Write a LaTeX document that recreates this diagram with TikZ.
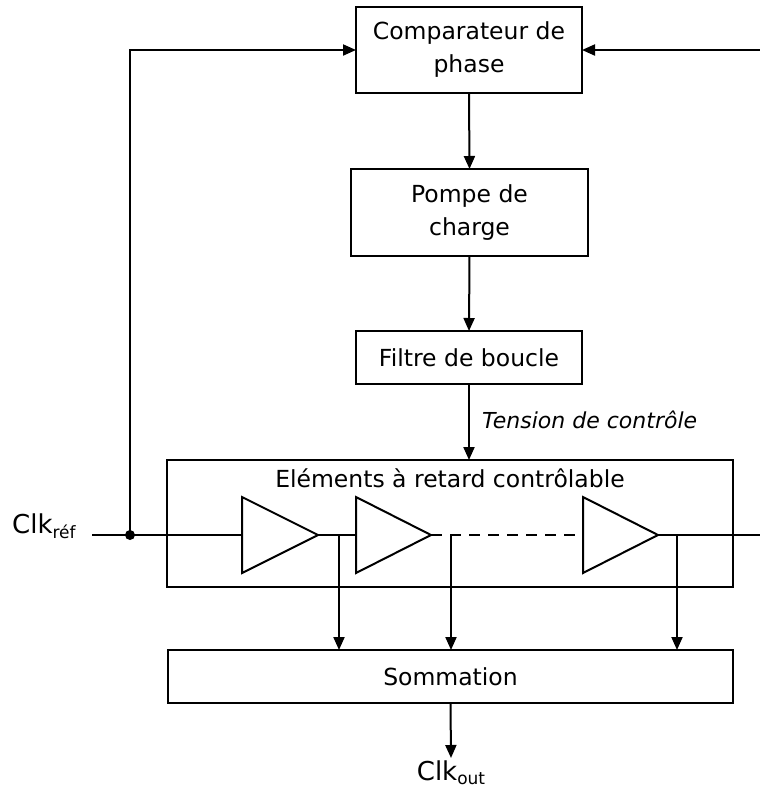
\documentclass[tikz,border=0pt]{standalone}
\usepackage{fontspec}
\setmainfont{DejaVu Sans}
\usetikzlibrary{arrows.meta}
\begin{document}
\begin{tikzpicture}[x=1pt,y=-1pt,
  box/.style={draw,line width=2pt,inner sep=0pt,outer sep=0pt,align=center,font=\fontsize{23.5}{33}\selectfont},
  wire/.style={line width=2pt},
  arr/.style={wire,-{Triangle[length=13pt,width=11pt]}},
  lbl/.style={inner sep=0pt,font=\fontsize{23.5}{28}\selectfont},
  amp/.style={line width=2pt,line join=miter}]
\useasboundingbox (0,0) rectangle (760,793);
% boxes
\node[box,minimum width=226pt,minimum height=86pt] (comp) at (469,50) {Comparateur de\\phase};
\node[box,minimum width=237pt,minimum height=87pt] (pompe) at (469.5,212.5) {Pompe de\\charge};
\node[box,minimum width=226pt,minimum height=53pt] (filtre) at (469,357.5) {Filtre de boucle};
\node[box,minimum width=566pt,minimum height=127pt] (elem) at (450,523.5) {};
\node[lbl] (elemtxt) at (450,478) {Eléments à retard contrôlable};
\node[box,minimum width=565pt,minimum height=53pt] (somm) at (450.5,676.5) {Sommation};
% labels
\node[lbl,anchor=base west,font=\fontsize{26}{30}\selectfont] (clkref) at (12,533) {Clk\raisebox{-5pt}{\fontsize{17}{17}\selectfont réf}};
\node[lbl,anchor=base,font=\fontsize{26}{30}\selectfont] (clkout) at (451,780) {Clk\raisebox{-4pt}{\fontsize{17}{17}\selectfont out}};
\node[lbl,anchor=west,font=\fontsize{22}{26}\selectfont\itshape] (tens) at (482,420) {Tension de contrôle};
% coordinates
\coordinate (in) at (92,535);
\coordinate (dot) at (130,535);
\coordinate (outr) at (760,535);
\coordinate (fbr) at (760,50);
\coordinate (t1a) at (242,497); \coordinate (t1b) at (242,573); \coordinate (t1i) at (242,535); \coordinate (t1o) at (318,535);
\coordinate (t2a) at (356,497); \coordinate (t2b) at (356,573); \coordinate (t2i) at (356,535); \coordinate (t2o) at (431,535);
\coordinate (t3a) at (583,497); \coordinate (t3b) at (583,573); \coordinate (t3i) at (583,535); \coordinate (t3o) at (658,535);
\coordinate (tap1) at (339,535);
\coordinate (tap2) at (451,535);
\coordinate (tap3) at (677,535);
\coordinate (sout) at (451,758);
% amplifiers
\draw[amp] (t1a) -- (t1o) -- (t1b) -- cycle;
\draw[amp] (t2a) -- (t2o) -- (t2b) -- cycle;
\draw[amp] (t3a) -- (t3o) -- (t3b) -- cycle;
% forward chain
\draw[arr] (comp.south) -- (pompe.north);
\draw[arr] (pompe.south) -- (filtre.north);
\draw[arr] (filtre.south) -- (filtre.south |- elem.north);
% signal path
\draw[wire] (in) -- (t1i);
\draw[wire] (t1o) -- (t2i);
\draw[wire,line width=2.5pt,dash pattern=on 11pt off 8pt] (t2o) -- (t3i);
\draw[wire] (t3o) -- (outr);
\fill (dot) circle (5pt);
% feedback
\draw[arr] (dot) -- (dot |- comp.west) -- (comp.west);
\draw[arr] (fbr) -- (comp.east);
% taps
\draw[arr] (tap1) -- (tap1 |- somm.north);
\draw[arr] (tap2) -- (tap2 |- somm.north);
\draw[arr] (tap3) -- (tap3 |- somm.north);
\draw[arr] (somm.south) -- (sout);
\end{tikzpicture}
\end{document}
